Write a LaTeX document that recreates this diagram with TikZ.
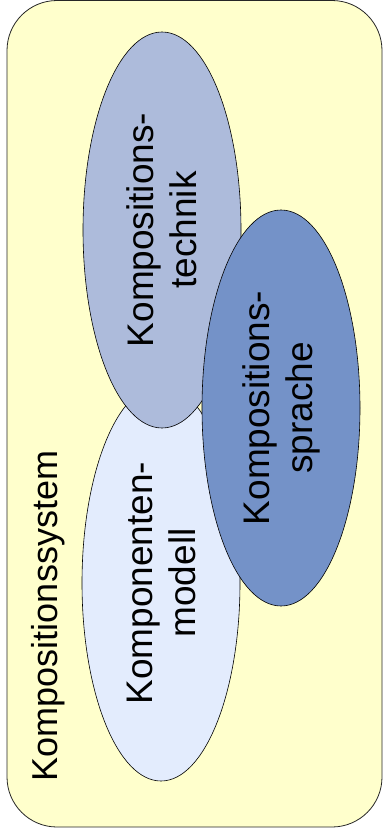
\documentclass[tikz,border=0pt]{standalone}
\usepackage{fontspec}
\setmainfont{Liberation Sans}
\usetikzlibrary{shapes.geometric}
\definecolor{sysfill}{RGB}{255,255,204}
\definecolor{modellfill}{RGB}{227,236,253}
\definecolor{technikfill}{RGB}{173,187,219}
\definecolor{sprachefill}{RGB}{116,146,200}
\begin{document}
\begin{tikzpicture}[x=1pt,y=-1pt,
  sysbox/.style={draw=black!85,line width=0.8pt,fill=sysfill,rounded corners=50pt},
  blob/.style={ellipse,draw=black,line width=0.6pt,inner sep=0pt,rotate=90,
    minimum width=396pt,minimum height=158pt,align=center,
    font=\fontsize{37}{43}\selectfont},
  systext/.style={rotate=90,anchor=base,inner sep=0pt,font=\fontsize{36}{40}\selectfont}]
\useasboundingbox (0,0) rectangle (383,835);
% outer system frame
\draw[sysbox] (7,0.5) rectangle (382,827);
\node[systext] (system) at (57,616) {Kompositionssystem};
% the three overlapping parts
\node[blob,fill=modellfill] (modell) at (161,583) {Komponenten-\\modell};
\node[blob,fill=technikfill] (technik) at (162,230) {Kompositions-\\technik};
\node[blob,fill=sprachefill] (sprache) at (281,408) {Kompositions-\\sprache};
\end{tikzpicture}
\end{document}
